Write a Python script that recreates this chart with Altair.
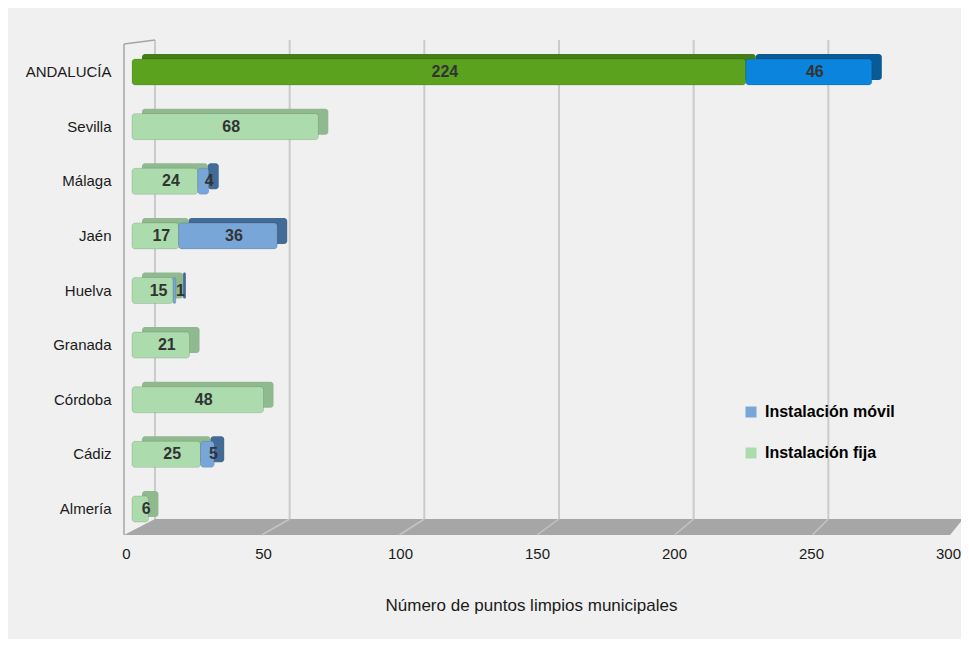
import altair as alt
import pandas as pd

# ---------------- data ----------------
regions = ["ANDALUCÍA", "Sevilla", "Málaga", "Jaén", "Huelva", "Granada", "Córdoba", "Cádiz", "Almería"]
fija = [224, 68, 24, 17, 15, 21, 48, 25, 6]
movil = [46, 0, 4, 36, 1, 0, 0, 5, 0]
series = ["Instalación fija", "Instalación móvil"]
legend_order = ["Instalación móvil", "Instalación fija"]
x_ticks = [0, 50, 100, 150, 200, 250, 300]
x_title = "Número de puntos limpios municipales"

rows = []
for r, f, m in zip(regions, fija, movil):
    if f > 0:
        rows.append(dict(region=r, serie=series[0], value=f, start=0, end=f))
    if m > 0:
        rows.append(dict(region=r, serie=series[1], value=m, start=f, end=f + m))
df = pd.DataFrame(rows)
df["mid"] = (df["start"] + df["end"]) / 2

# ---------------- style ----------------
W, H = 822, 501
FONT = "Liberation Sans"
BG = "#f0f0f0"
TXT = "#1a1a1a"

COL = {
    ("and", series[0]): ("#5ba31f", "#437d15"),
    ("and", series[1]): ("#0a84dc", "#0a5a96"),
    ("prov", series[0]): ("#acdcad", "#90b990"),
    ("prov", series[1]): ("#78a6d9", "#426b96"),
}

# 3D frame geometry (plot coordinates)
FRONT_L, FRONT_R = -8, 818
BACK_L, BACK_R = 23, 831
FLOOR_BACK_Y, FLOOR_FRONT_Y = 479, 495

dummy = pd.DataFrame({"k": [0]})
is_and = "datum.region === 'ANDALUCÍA'"

y_enc = alt.Y(
    "region:N",
    sort=regions,
    scale=alt.Scale(paddingInner=0.524, paddingOuter=0.348),
    axis=alt.Axis(title=None, domain=False, ticks=False, labelPadding=21,
                  labelFontSize=15, labelFont=FONT, labelColor=TXT),
)
x_scale = alt.Scale(domain=[0, 300], nice=False, zero=False)
x_axis = alt.Axis(values=x_ticks, labelOffset=-6, domain=False, ticks=False, grid=False,
                  labelPadding=5, labelFontSize=15, labelFont=FONT, labelColor=TXT,
                  labelFlush=False, title=x_title, titleFont=FONT, titleFontSize=17,
                  titleFontWeight="normal", titleColor=TXT, titleX=399, titleY=64,
                  titleBaseline="middle", titleAlign="center")

base = alt.Chart(df)


def bar_layer(serie, depth):
    idx = 1 if depth else 0
    c_and = COL[("and", serie)][idx]
    c_prov = COL[("prov", serie)][idx]
    props = dict(cornerRadius=3)
    if depth:
        props.update(xOffset=10, x2Offset=10, yOffset=-5, y2Offset=-5)
    else:
        props.update(stroke="#000000", strokeOpacity=0.12, strokeWidth=1)
    return base.transform_filter(alt.datum.serie == serie).mark_bar(**props).encode(
        x=alt.X("start:Q", scale=x_scale, axis=x_axis),
        x2="end:Q",
        y=y_enc,
        color=alt.condition(is_and, alt.value(c_and), alt.value(c_prov)),
    )


labels = base.mark_text(dx=6, fontWeight="bold", fontSize=16, color="#333333",
                        font=FONT, baseline="middle", align="center").encode(
    x=alt.X("mid:Q", scale=x_scale, axis=x_axis),
    y=y_enc,
    text="value:Q",
)

legend_layer = alt.Chart(pd.DataFrame({"serie": legend_order})).mark_point(
    shape="square", filled=True, opacity=1
).encode(
    x=alt.value(-3000),
    y=alt.value(-3000),
    color=alt.Color(
        "serie:N",
        scale=alt.Scale(domain=legend_order, range=["#78a6d9", "#acdcad"]),
        legend=alt.Legend(orient="none", legendX=611, legendY=364, title=None,
                          symbolType="square", symbolSize=121, symbolStrokeWidth=0,
                          labelFont=FONT, labelFontSize=16, labelFontWeight="bold",
                          labelColor="#000000", rowPadding=25, labelOffset=6, padding=0),
    ),
)

main = alt.layer(
    bar_layer(series[0], True),
    bar_layer(series[0], False),
    bar_layer(series[1], True),
    bar_layer(series[1], False),
    labels,
    legend_layer,
)

# back-wall gridlines through their own (perspective) scale
slope = (BACK_R - BACK_L) / 300.0
d0 = -BACK_L / slope
d1 = d0 + W / slope
grid = alt.Chart(pd.DataFrame({"v": x_ticks})).mark_rule().encode(
    x=alt.X("v:Q", scale=alt.Scale(domain=[d0, d1], nice=False, zero=False), axis=None),
    y=alt.value(0),
    y2=alt.value(FLOOR_BACK_Y),
    color=alt.condition("datum.v === 300", alt.value("#a6a6a6"), alt.value("#cbcbcb")),
    strokeWidth=alt.condition("datum.v === 300", alt.value(3), alt.value(2)),
)

# floor (parallelogram drawn as a custom symbol)
cx = (FRONT_L + BACK_R) / 2
cy = (FLOOR_BACK_Y + FLOOR_FRONT_Y) / 2
r = (BACK_R - FRONT_L) / 2
def n(v, c):
    return round((v - c) / r, 5)
floor_path = (f"M {n(FRONT_L, cx)} {n(FLOOR_FRONT_Y, cy)} L {n(FRONT_R, cx)} {n(FLOOR_FRONT_Y, cy)} "
              f"L {n(BACK_R, cx)} {n(FLOOR_BACK_Y, cy)} L {n(BACK_L, cx)} {n(FLOOR_BACK_Y, cy)} Z")
floor = alt.Chart(dummy).mark_point(shape=floor_path, filled=True, size=(2 * r) ** 2,
                                    color="#a6a6a6", opacity=1, strokeWidth=0).encode(
    x=alt.value(cx), y=alt.value(cy))

decor = [grid, floor]
front_slope = (FRONT_R - FRONT_L) / 300.0
for v in x_ticks[1:-1]:
    decor.append(alt.Chart(dummy).mark_rule(color="#c4c4c4", strokeWidth=1.5).encode(
        x=alt.value(BACK_L + v * slope), x2=alt.value(FRONT_L + v * front_slope),
        y=alt.value(FLOOR_BACK_Y), y2=alt.value(FLOOR_FRONT_Y)))
decor.append(alt.Chart(dummy).mark_rule(color="#a6a6a6", strokeWidth=1.5).encode(
    x=alt.value(FRONT_L), y=alt.value(4), y2=alt.value(FLOOR_FRONT_Y)))
decor.append(alt.Chart(dummy).mark_rule(color="#a6a6a6", strokeWidth=1.5).encode(
    x=alt.value(FRONT_L), x2=alt.value(BACK_L), y=alt.value(4), y2=alt.value(0)))

chart = alt.layer(*decor, main).resolve_scale(x="independent").properties(
    width=W, height=H,
    padding={"left": 124, "top": 32, "right": 7, "bottom": 98},
    autosize="none",
    background=BG,
).configure_view(stroke=None)

chart.save("out.html", embed_options={"renderer": "svg", "actions": False})
